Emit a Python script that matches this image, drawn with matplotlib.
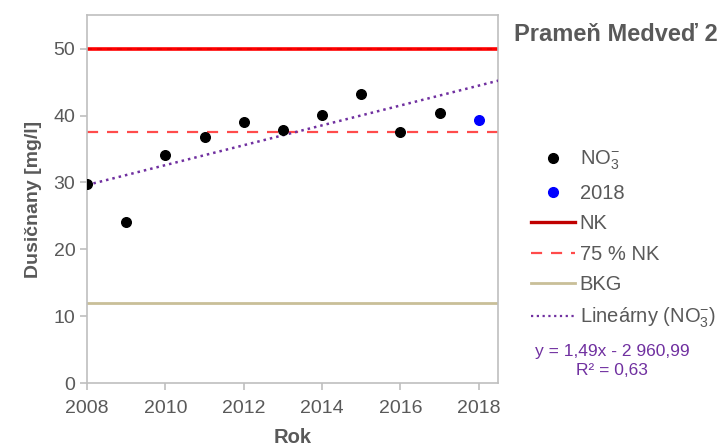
import numpy as np
import matplotlib
matplotlib.use('Agg')
import matplotlib.pyplot as plt
from matplotlib.lines import Line2D

plt.rcParams['font.family'] = ['Liberation Sans', 'DejaVu Sans']
plt.rcParams['mathtext.fontset'] = 'custom'
plt.rcParams['mathtext.rm'] = 'Liberation Sans'
plt.rcParams['mathtext.it'] = 'Liberation Sans'

# Nitrate measurements (mg/l)
years = [2008, 2009, 2010, 2011, 2012, 2013, 2014, 2015, 2016, 2017]
no3 = [29.7, 24.1, 34.1, 36.8, 39.1, 37.9, 40.1, 43.2, 37.6, 40.4]
year_2018 = [2018]
no3_2018 = [39.3]

nk = 50.0        # limit value
nk_75 = 37.5     # 75 % of limit
bkg = 12.0       # background

eq_text = 'y = 1,49x - 2 960,99'
r2_text = 'R² = 0,63'

gray = '#595959'
spine = '#bfbfbf'

fig = plt.figure(figsize=(7.2, 4.46), dpi=100)
ax = fig.add_axes([0.121, 0.141, 0.571, 0.825])

x0, x1 = 2008, 2018.5
ax.plot([x0, x1], [nk, nk], color='#ff0000', lw=2.6, solid_capstyle='butt', zorder=2)
ax.plot([x0, x1], [nk, nk], color='#c00000', lw=1.2, dashes=(3, 3), alpha=0.5, zorder=2)
ax.plot([x0, x1], [nk_75, nk_75], color='#ff4b4b', lw=1.6, dashes=(5, 4), zorder=2)
ax.plot([x0, x1], [bkg, bkg], color='#c9bf98', lw=2.0, zorder=2)

# linear trend of the 2008-2017 series
k, q = np.polyfit(years, no3, 1)
tx = np.array([x0, x1])
ax.plot(tx, k * tx + q, color='#7030a0', lw=1.8, ls=(0, (1, 1.6)), zorder=3)

ax.scatter(years, no3, s=48, color='black', zorder=4)
ax.scatter(year_2018, no3_2018, s=48, color='#0000ff', zorder=4)

ax.set_xlim(x0, x1)
ax.set_ylim(0, 55)
ax.set_xticks(range(2008, 2019, 2))
ax.set_yticks(range(0, 51, 10))
for s in ax.spines.values():
    s.set_color(spine)
    s.set_linewidth(1.2)
ax.tick_params(colors=spine, labelcolor=gray, labelsize=14, length=5, width=1.2)
ax.tick_params(axis='x', pad=7)
ax.set_xlabel('Rok', fontsize=14.5, fontweight='bold', color=gray, labelpad=8)
ax.set_ylabel('Dusičnany [mg/l]', fontsize=14, fontweight='bold', color=gray, labelpad=8)

fig.text(0.997, 0.922, 'Prameň Medveď 2', fontsize=17, fontweight='bold',
         color=gray, ha='right', va='center')

handles = [
    Line2D([], [], ls='none', marker='o', ms=7, color='black'),
    Line2D([], [], ls='none', marker='o', ms=7, color='#0000ff'),
    Line2D([], [], color='#c00000', lw=2.4),
    Line2D([], [], color='#ff4b4b', lw=1.6, dashes=(5, 4)),
    Line2D([], [], color='#c9bf98', lw=2.0),
    Line2D([], [], color='#7030a0', lw=1.6, ls=(0, (1, 1.6))),
]
labels = [r'NO$_3^{-}$', '2018', 'NK', '75 % NK', 'BKG', r'Lineárny (NO$_3^{-}$)']
leg = fig.legend(handles, labels, loc='upper left', bbox_to_anchor=(0.726, 0.684),
                 frameon=False, fontsize=14.5, handlelength=2.2, handletextpad=0.22,
                 labelspacing=0.57, borderaxespad=0)
for t in leg.get_texts():
    t.set_color(gray)

fig.text(0.85, 0.211, eq_text, fontsize=12.5, color='#7030a0', ha='center', va='center')
fig.text(0.85, 0.170, r2_text, fontsize=12.5, color='#7030a0', ha='center', va='center')

fig.savefig('out.png', dpi=100)
